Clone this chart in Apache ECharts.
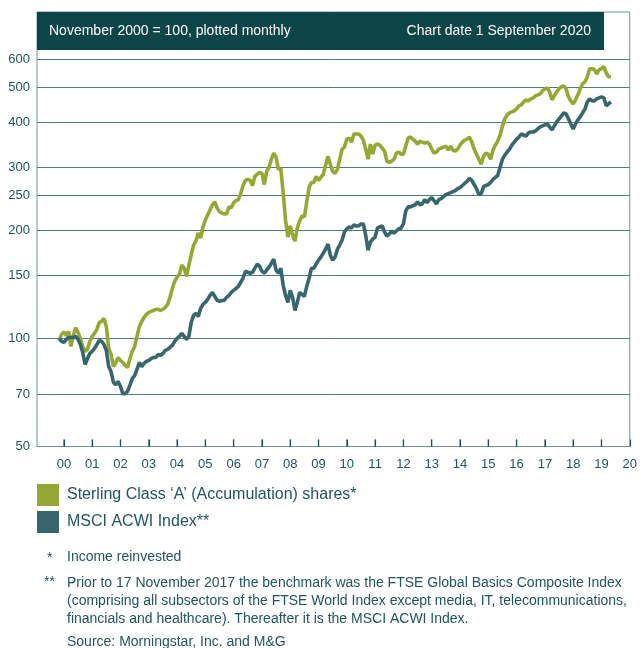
<!DOCTYPE html>
<html>
<head>
<meta charset="utf-8">
<script src="https://cdn.jsdelivr.net/npm/echarts@6/dist/echarts.min.js"></script>
<style>
  html, body { margin: 0; padding: 0; background: #fff; }
  #chart { width: 640px; height: 648px; }
</style>
</head>
<body>
<div id="chart"></div>
<script>
// monthly index levels, November 2000 = 100
const sterlingA = [
  98.7, 102.6, 104.3, 101.9, 104.6, 95.0, 101.9, 107.3, 103.9, 100.0, 95.0, 92.0,
  93.2, 98.1, 101.3, 103.3, 106.0, 110.8, 111.5, 113.7, 108.0, 93.8, 90.2, 83.5,
  85.7, 88.5, 86.8, 85.7, 84.1, 83.0, 87.9, 92.0, 95.0, 101.3, 108.0, 111.5,
  114.4, 116.7, 118.2, 118.9, 119.7, 120.5, 120.5, 119.7, 120.5, 122.0, 124.4, 130.2,
  137.9, 144.3, 148.1, 150.9, 160.0, 156.9, 149.0, 160.0, 170.6, 182.0, 186.7, 196.6,
  190.4, 204.4, 213.9, 220.9, 228.2, 235.7, 240.3, 231.1, 225.2, 223.8, 222.3, 222.3,
  232.6, 231.1, 238.8, 241.9, 243.5, 253.2, 266.7, 275.5, 277.3, 275.5, 266.7, 282.8,
  286.5, 290.2, 288.3, 268.4, 292.1, 299.8, 315.7, 328.2, 319.9, 295.9, 297.8, 254.8,
  213.9, 191.6, 205.7, 194.1, 186.7, 203.1, 212.5, 219.5, 218.0, 240.3, 263.2, 271.9,
  271.9, 282.8, 275.5, 280.9, 286.5, 303.7, 321.9, 305.6, 292.1, 288.3, 295.9, 315.7,
  336.9, 341.2, 359.3, 361.6, 352.4, 371.1, 371.1, 371.1, 366.3, 357.0, 336.9, 315.7,
  347.9, 326.1, 345.6, 347.9, 345.6, 339.0, 332.5, 311.6, 309.6, 311.6, 315.7, 328.2,
  330.3, 326.1, 326.1, 343.4, 361.6, 364.0, 359.3, 354.7, 347.9, 354.7, 352.4, 350.1,
  352.4, 347.9, 336.9, 328.2, 330.3, 336.9, 339.0, 341.2, 343.4, 334.7, 343.4, 334.7,
  332.5, 336.9, 345.6, 352.4, 357.0, 359.3, 364.0, 352.4, 336.9, 326.1, 315.7, 305.6,
  321.9, 328.2, 326.1, 315.7, 334.7, 345.6, 354.7, 368.7, 390.8, 408.9, 419.5, 424.9,
  427.7, 430.4, 436.0, 444.5, 447.4, 456.1, 462.0, 459.0, 465.0, 468.0, 474.1, 477.1,
  480.2, 489.6, 495.9, 499.1, 486.4, 462.0, 474.1, 486.4, 495.9, 502.3, 505.6, 495.9,
  471.0, 459.0, 450.3, 462.0, 477.1, 495.9, 512.1, 518.8, 535.7, 564.0, 564.0, 560.4,
  546.2, 560.4, 564.0, 571.3, 549.7, 535.7, 535.7
];
const msciAcwi = [
  100.0, 98.1, 97.5, 99.4, 100.6, 100.6, 100.6, 101.3, 99.4, 96.2, 91.4, 84.6,
  87.9, 90.8, 92.0, 93.8, 96.2, 98.7, 98.1, 96.2, 92.6, 83.5, 80.9, 75.4,
  74.4, 75.9, 73.5, 70.2, 70.2, 71.2, 74.0, 77.3, 78.8, 82.0, 85.7, 83.5,
  85.2, 86.3, 86.8, 87.9, 88.5, 88.5, 90.2, 89.7, 90.8, 92.6, 93.2, 94.4,
  95.6, 98.1, 100.0, 101.3, 103.3, 101.3, 99.4, 101.3, 110.8, 115.9, 117.5, 115.2,
  121.3, 124.4, 126.0, 128.5, 131.9, 134.4, 131.0, 127.6, 126.8, 127.6, 127.6, 130.2,
  131.9, 134.4, 136.2, 137.9, 139.7, 143.4, 147.1, 153.9, 152.9, 151.9, 152.9, 156.9,
  161.0, 158.9, 153.9, 151.9, 154.9, 157.9, 162.0, 166.2, 154.9, 151.9, 156.9, 140.6,
  131.9, 126.0, 136.2, 130.2, 119.7, 126.0, 134.4, 132.7, 131.0, 139.7, 147.1, 156.9,
  156.9, 161.0, 165.2, 168.4, 172.8, 177.3, 183.1, 170.6, 165.2, 168.4, 177.3, 182.0,
  187.9, 197.9, 201.8, 204.4, 203.1, 207.1, 205.7, 205.7, 208.4, 208.4, 194.1, 176.2,
  185.5, 189.1, 191.6, 203.1, 204.4, 205.7, 197.9, 192.9, 195.4, 199.2, 196.6, 199.2,
  201.8, 203.1, 208.4, 226.7, 232.6, 232.6, 234.2, 235.7, 240.3, 235.7, 237.2, 243.5,
  238.8, 243.5, 246.7, 241.9, 237.2, 243.5, 245.1, 248.3, 251.5, 253.2, 254.8, 256.5,
  258.1, 261.5, 263.2, 266.7, 270.2, 273.7, 279.1, 275.5, 268.4, 261.5, 251.5, 253.2,
  265.0, 266.7, 268.4, 271.9, 277.3, 280.9, 284.6, 299.8, 315.7, 324.0, 330.3, 336.9,
  345.6, 352.4, 359.3, 364.0, 371.1, 368.7, 366.3, 373.5, 375.9, 375.9, 378.3, 383.4,
  388.3, 390.8, 393.4, 395.9, 388.3, 380.9, 390.8, 401.1, 408.9, 416.8, 424.9, 422.2,
  408.9, 395.9, 383.4, 395.9, 406.3, 414.2, 424.9, 436.0, 456.1, 465.0, 459.0, 459.0,
  465.0, 468.0, 471.0, 468.0, 444.5, 450.3, 456.1
];
const seriesNames = ["Sterling Class \u2018A\u2019 (Accumulation) shares*", "MSCI ACWI Index**"];
const yTicks = [50, 70, 100, 150, 200, 250, 300, 400, 500, 600];
const yearTicks = [2001, 2002, 2003, 2004, 2005, 2006, 2007, 2008, 2009, 2010, 2011,
  2012, 2013, 2014, 2015, 2016, 2017, 2018, 2019, 2020, 2021];
const yearLabels = ['00', '01', '02', '03', '04', '05', '06', '07', '08', '09', '10',
  '11', '12', '13', '14', '15', '16', '17', '18', '19', '20'];

const firstMonth = 2000 + 10 / 12; // November 2000
const toPoints = (vals) => vals.map((v, i) => [firstMonth + i / 12, v]);

const textColor = '#1e5561';
const font = "'Liberation Sans', Arial, sans-serif";
const yMin = 50;

const chart = echarts.init(document.getElementById('chart'), null, { renderer: 'canvas' });

chart.setOption({
  animation: false,
  textStyle: { fontFamily: font },
  grid: {
    left: 37, right: 7, top: 12, bottom: 201.5,
    show: true, borderColor: '#6f959b', borderWidth: 1
  },
  legend: {
    data: seriesNames,
    orient: 'vertical',
    left: 37, top: 484,
    padding: 0,
    icon: 'rect',
    itemWidth: 22, itemHeight: 22, itemGap: 5,
    textStyle: { fontSize: 16, color: textColor, fontFamily: font, padding: [0, 0, 0, 3] }
  },
  xAxis: {
    type: 'value',
    min: 2000.05, max: 2021,
    axisLine: { show: true, lineStyle: { color: '#6f959b', width: 1 } },
    axisTick: {
      show: true, inside: true, length: 7,
      customValues: yearTicks,
      lineStyle: { color: '#1e4f58', width: 1.2 }
    },
    axisLabel: {
      customValues: yearTicks,
      formatter: (v) => yearLabels[yearTicks.indexOf(Math.round(v))],
      fontSize: 13, color: textColor, margin: 11
    },
    splitLine: { show: false }
  },
  yAxis: {
    type: 'log',
    logBase: 10,
    min: yMin, max: 811.6,
    axisLine: { show: false },
    axisTick: { show: false, customValues: yTicks },
    axisLabel: {
      customValues: yTicks,
      fontSize: 13, color: textColor, margin: 7
    },
    splitLine: { show: true, lineStyle: { color: '#4f7b83', width: 1 } }
  },
  graphic: [
    { type: 'rect', left: 37, top: 12, shape: { width: 567, height: 38 }, style: { fill: '#0d4548' } },
    { type: 'text', left: 49, top: 24, style: { text: 'November 2000 = 100, plotted monthly', fill: '#fff', fontSize: 14, fontFamily: font } },
    { type: 'text', right: 49, top: 24, style: { text: 'Chart date 1 September 2020', fill: '#fff', fontSize: 14, fontFamily: font } },
    { type: 'text', left: 47, top: 551, style: { text: '*', fill: textColor, fontSize: 14, fontFamily: font } },
    { type: 'text', left: 67, top: 550, style: { text: 'Income reinvested', fill: textColor, fontSize: 14, fontFamily: font } },
    { type: 'text', left: 44, top: 575, style: { text: '**', fill: textColor, fontSize: 14, fontFamily: font } },
    { type: 'text', left: 67, top: 574, style: {
      text: 'Prior to 17 November 2017 the benchmark was the FTSE Global Basics Composite Index\n' +
            '(comprising all subsectors of the FTSE World Index except media, IT, telecommunications,\n' +
            'financials and healthcare). Thereafter it is the MSCI ACWI Index.',
      fill: textColor, fontSize: 14, lineHeight: 18, fontFamily: font } },
    { type: 'text', left: 67, top: 635, style: { text: 'Source: Morningstar, Inc. and M&G', fill: textColor, fontSize: 14, fontFamily: font } }
  ],
  series: [
    {
      // year tick marks standing on the bottom axis
      type: 'scatter', silent: true,
      data: yearTicks.slice(0, -1).map((y) => [y, yMin]),
      symbol: 'rect', symbolSize: [1.2, 7], symbolOffset: [0, -3.5],
      itemStyle: { color: '#1e4f58' }, z: 1
    },
    {
      name: seriesNames[0], type: 'line', data: toPoints(sterlingA),
      showSymbol: false, symbol: 'none',
      lineStyle: { color: '#97a733', width: 3.6 }, itemStyle: { color: '#97a733' }
    },
    {
      name: seriesNames[1], type: 'line', data: toPoints(msciAcwi),
      showSymbol: false, symbol: 'none',
      lineStyle: { color: '#38666f', width: 3.6 }, itemStyle: { color: '#38666f' }
    }
  ]
});
</script>
</body>
</html>
